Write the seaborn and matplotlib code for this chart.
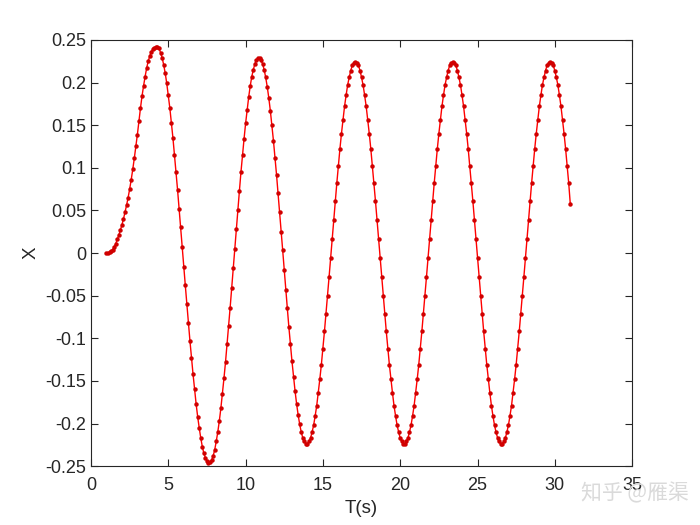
import matplotlib
matplotlib.use('Agg')
import matplotlib.pyplot as plt
import numpy as np
import seaborn as sns

# time axis: samples every 0.1 s from 1 s to 31 s
t_start = 1.0
t_end = 31.0

# displacement X
# start-up rise to the first peak (t = 1.0 .. 4.3)
disp_rise = [0.000, 0.000, 0.001, 0.002, 0.004, 0.007, 0.011, 0.016, 0.021, 0.027,
             0.033, 0.040, 0.048, 0.056, 0.065, 0.075, 0.086, 0.098, 0.111, 0.125,
             0.139, 0.155, 0.170, 0.184, 0.196, 0.207, 0.217, 0.225, 0.231, 0.236,
             0.239, 0.241, 0.242, 0.242]
# first fall to the deepest trough (t = 4.4 .. 7.6)
disp_fall1 = [0.240, 0.235, 0.229, 0.221, 0.211, 0.199, 0.185, 0.170, 0.153, 0.135,
              0.115, 0.095, 0.074, 0.052, 0.030, 0.007, -0.016, -0.038, -0.060, -0.082,
              -0.103, -0.123, -0.142, -0.160, -0.177, -0.192, -0.205, -0.217, -0.227, -0.235,
              -0.240, -0.244, -0.246]
# second rise (t = 7.7 .. 10.8)
disp_rise2 = [-0.245, -0.243, -0.238, -0.231, -0.221, -0.210, -0.197, -0.182, -0.165, -0.147,
              -0.128, -0.107, -0.086, -0.064, -0.041, -0.018, 0.005, 0.028, 0.051, 0.073,
              0.095, 0.115, 0.134, 0.152, 0.168, 0.183, 0.196, 0.207, 0.215, 0.222,
              0.226, 0.229]
# second fall (t = 10.9 .. 13.9)
disp_fall2 = [0.229, 0.226, 0.222, 0.215, 0.206, 0.195, 0.182, 0.167, 0.150, 0.132,
              0.112, 0.092, 0.070, 0.048, 0.025, 0.003, -0.020, -0.043, -0.065, -0.087,
              -0.107, -0.127, -0.145, -0.162, -0.177, -0.190, -0.201, -0.210, -0.217, -0.221,
              -0.224]
# steady oscillation (t = 14.0 .. 17.0)
disp_steady1 = [-0.224, -0.221, -0.217, -0.210, -0.202, -0.191, -0.179, -0.164, -0.148, -0.131,
                -0.112, -0.092, -0.071, -0.050, -0.028, -0.006, 0.017, 0.039, 0.061, 0.082,
                0.102, 0.122, 0.140, 0.156, 0.172, 0.185, 0.197, 0.206, 0.214, 0.220,
                0.223]
# t = 17.1 .. 23.3
disp_steady2 = [0.224, 0.223, 0.220, 0.214, 0.206, 0.197, 0.185, 0.172, 0.156, 0.140,
                0.122, 0.102, 0.082, 0.061, 0.039, 0.017, -0.006, -0.028, -0.050, -0.071,
                -0.092, -0.112, -0.131, -0.148, -0.164, -0.179, -0.191, -0.202, -0.210, -0.217,
                -0.221, -0.224, -0.224, -0.221, -0.217, -0.210, -0.202, -0.191, -0.179, -0.164,
                -0.148, -0.131, -0.112, -0.092, -0.071, -0.050, -0.028, -0.006, 0.017, 0.039,
                0.061, 0.082, 0.102, 0.122, 0.140, 0.156, 0.172, 0.185, 0.197, 0.206,
                0.214, 0.220, 0.223]
# t = 23.4 .. 29.6
disp_steady3 = [0.224, 0.223, 0.220, 0.214, 0.206, 0.197, 0.185, 0.172, 0.156, 0.140,
                0.122, 0.102, 0.082, 0.061, 0.039, 0.017, -0.006, -0.028, -0.050, -0.071,
                -0.092, -0.112, -0.131, -0.148, -0.164, -0.179, -0.191, -0.202, -0.210, -0.217,
                -0.221, -0.224, -0.224, -0.221, -0.217, -0.210, -0.202, -0.191, -0.179, -0.164,
                -0.148, -0.131, -0.112, -0.092, -0.071, -0.050, -0.028, -0.006, 0.017, 0.039,
                0.061, 0.082, 0.102, 0.122, 0.140, 0.156, 0.172, 0.185, 0.197, 0.206,
                0.214, 0.220, 0.223]
# last peak and end of the run (t = 29.7 .. 31.0)
disp_tail = [0.224, 0.223, 0.220, 0.214, 0.206, 0.197, 0.185, 0.172, 0.156, 0.140,
             0.122, 0.102, 0.082, 0.058]

x_vals = np.array(disp_rise + disp_fall1 + disp_rise2 + disp_fall2
                  + disp_steady1 + disp_steady2 + disp_steady3 + disp_tail)
t_vals = np.linspace(t_start, t_end, len(x_vals))

x_ticks = [0, 5, 10, 15, 20, 25, 30, 35]
y_ticks = [-0.25, -0.2, -0.15, -0.1, -0.05, 0, 0.05, 0.1, 0.15, 0.2, 0.25]

sns.set_style('ticks')
plt.rcParams['font.family'] = ['Liberation Sans', 'DejaVu Sans']

fig, ax = plt.subplots(figsize=(7, 5.25), dpi=100)
fig.subplots_adjust(left=0.13, right=0.903, bottom=0.112, top=0.924)

sns.lineplot(x=t_vals, y=x_vals, ax=ax, color='red', linewidth=1,
             marker='o', markersize=3.2, markeredgewidth=0,
             markerfacecolor='#d00000')

ax.set_xlim(0, 35)
ax.set_ylim(-0.25, 0.25)
ax.set_xticks(x_ticks)
ax.set_xticklabels([f'{v:g}' for v in x_ticks])
ax.set_yticks(y_ticks)
ax.set_yticklabels([f'{v:g}' for v in y_ticks])

ax.tick_params(direction='in', top=True, right=True, length=5, width=0.8,
               labelsize=13, colors='#262626')
ax.tick_params(axis='x', pad=8)
for s in ax.spines.values():
    s.set_color('#262626')
    s.set_linewidth(0.8)

ax.set_xlabel('T(s)', fontsize=13.5, color='#262626', labelpad=4)
ax.set_ylabel('X', fontsize=13.5, color='#262626')

# watermark
fig.text(0.907, 0.06, '知乎 @雁渠', ha='center', va='center', fontsize=15,
         color='#dadada', family=['Noto Sans CJK SC', 'DejaVu Sans'])

fig.savefig('out.png', dpi=100)
